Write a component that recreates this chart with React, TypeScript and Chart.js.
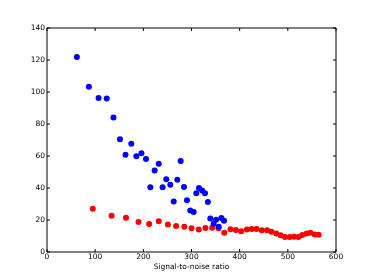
import React, { useEffect, useRef } from "react";
import { Chart, registerables } from "chart.js";

Chart.register(...registerables);

const blueX = [62, 87, 107, 124, 138, 151.5, 175, 163, 185.5, 196, 205.5, 232, 223.5, 277.5, 214.5, 240, 247.7, 256, 270.5, 284.4, 263, 290.6, 297.5, 304.5, 310, 315.5, 322, 328, 334, 339, 346, 351, 356.5, 362, 367.5];
const blueY = [121.9, 103.3, 96.3, 96, 84, 70.4, 67.7, 60.8, 59.8, 61.7, 58.1, 55.2, 51, 56.9, 40.4, 40.4, 45.4, 42.1, 45.2, 40.6, 31.5, 32.3, 26, 25, 36.7, 40, 38.5, 36.7, 31.2, 21, 17.7, 20.2, 15.8, 21.2, 19.6];

const redX = [95, 134, 164, 190, 212, 232, 251, 268, 285, 300, 315, 329, 343, 356, 368, 381, 392, 403, 415, 425, 435, 446, 457, 466, 476, 485, 494, 504, 513, 522, 530, 539, 547, 556, 564];
const redY = [27.1, 22.7, 21.4, 18.8, 17.5, 19.2, 17.2, 16.2, 15.8, 14.8, 14.1, 15, 15.1, 14.9, 12, 14.2, 13.8, 12.9, 14.1, 14.4, 14.4, 13.6, 13.6, 12.7, 11.5, 10.4, 9.3, 9.3, 9.5, 9.4, 10.6, 11.5, 12, 11, 10.8];

const xTicks = [0, 100, 200, 300, 400, 500, 600];
const yTicks = [0, 20, 40, 60, 80, 100, 120, 140];
const xTitle = "Signal-to-noise ratio";

const FONT = "'DejaVu Sans', sans-serif";

const framePlugin = {
  id: "frame",
  afterDraw(chart: any) {
    const { ctx, chartArea } = chart;
    const xs = chart.scales.x;
    const ys = chart.scales.y;
    const { left, right, top, bottom } = chartArea;
    const tl = 3;
    ctx.save();
    ctx.strokeStyle = "#000";
    ctx.lineWidth = 1;
    ctx.beginPath();
    ctx.rect(left, top, right - left, bottom - top);
    ctx.stroke();
    ctx.beginPath();
    for (const v of xTicks) {
      const px = xs.getPixelForValue(v);
      ctx.moveTo(px, bottom);
      ctx.lineTo(px, bottom - tl);
      ctx.moveTo(px, top);
      ctx.lineTo(px, top + tl);
    }
    for (const v of yTicks) {
      const py = ys.getPixelForValue(v);
      ctx.moveTo(left, py);
      ctx.lineTo(left + tl, py);
      ctx.moveTo(right, py);
      ctx.lineTo(right - tl, py);
    }
    ctx.stroke();
    ctx.restore();
  },
};

export default function App() {
  const ref = useRef<HTMLCanvasElement>(null);
  useEffect(() => {
    if (!ref.current) return;
    const chart = new Chart(ref.current, {
      type: "scatter",
      data: {
        datasets: [
          {
            data: blueX.map((x, i) => ({ x, y: blueY[i] })),
            backgroundColor: "#0000ff",
            borderColor: "#0000ff",
            pointRadius: 3,
            borderWidth: 0,
          },
          {
            data: redX.map((x, i) => ({ x, y: redY[i] })),
            backgroundColor: "#ff0000",
            borderColor: "#ff0000",
            pointRadius: 3,
            borderWidth: 0,
          },
        ],
      },
      options: {
        animation: false,
        responsive: false,
        layout: { padding: { top: 28, right: 38, left: 0, bottom: 0 } },
        plugins: { legend: { display: false }, tooltip: { enabled: false } },
        scales: {
          x: {
            type: "linear",
            min: 0,
            max: 600,
            afterFit: (s: any) => {
              s.height = 28;
            },
            afterBuildTicks: (s: any) => {
              s.ticks = xTicks.map((v) => ({ value: v }));
            },
            grid: { display: false, drawTicks: false },
            border: { display: false },
            ticks: {
              padding: 1,
              color: "#000",
              maxRotation: 0,
              font: { family: FONT, size: 7.5 },
            },
            title: {
              display: true,
              text: xTitle,
              color: "#000",
              font: { family: FONT, size: 7.5, lineHeight: 1.2 },
              padding: { top: 0, bottom: 8.5 },
            },
          },
          y: {
            type: "linear",
            min: 0,
            max: 140,
            afterFit: (s: any) => {
              s.width = 47;
            },
            afterBuildTicks: (s: any) => {
              s.ticks = yTicks.map((v) => ({ value: v }));
            },
            grid: { display: false, drawTicks: false },
            border: { display: false },
            ticks: {
              padding: 2,
              color: "#000",
              font: { family: FONT, size: 7.5 },
            },
          },
        },
      },
      plugins: [framePlugin],
    });
    return () => chart.destroy();
  }, []);
  return (
    <div style={{ position: "fixed", left: 0, top: 0, width: 374, height: 280, background: "#fff" }}>
      <canvas ref={ref} width={374} height={280} />
    </div>
  );
}
